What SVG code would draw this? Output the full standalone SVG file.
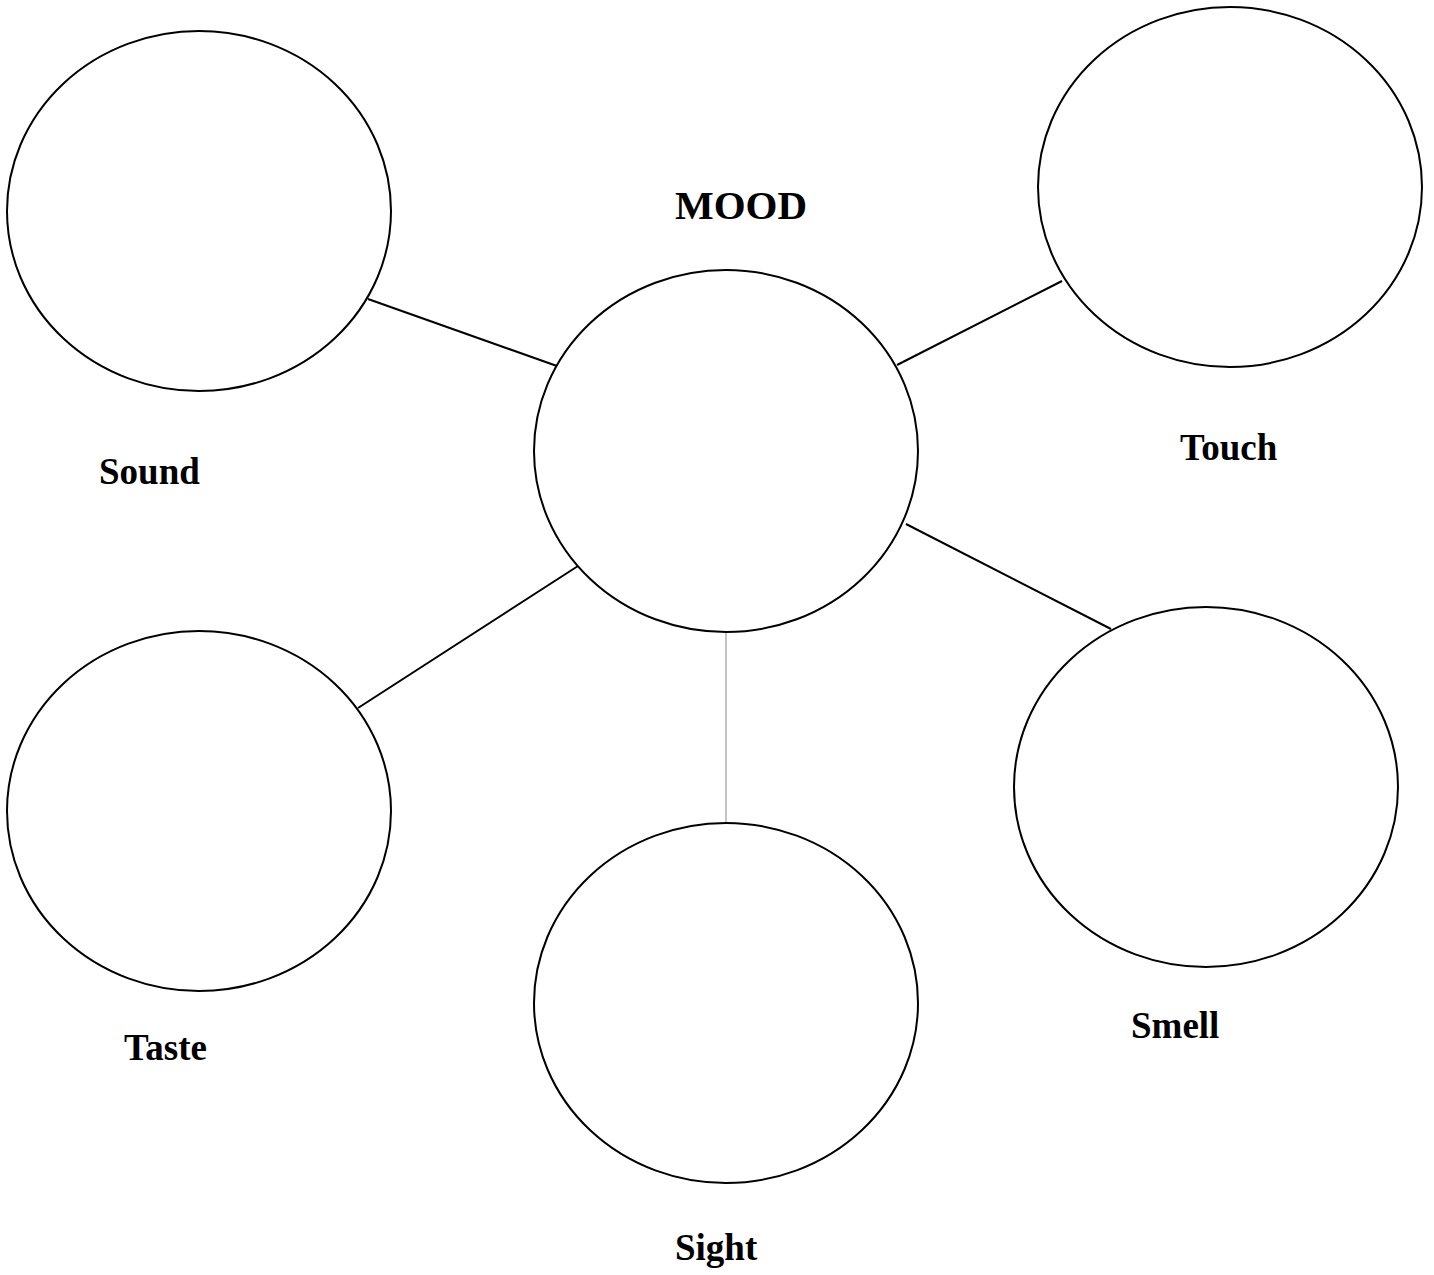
<svg xmlns="http://www.w3.org/2000/svg" width="1434" height="1275" viewBox="0 0 1434 1275">
<style>
.n{fill:#fff;stroke:#000;stroke-width:2}
.c{stroke:#000;stroke-width:2;fill:none}
.t{font-family:"Liberation Serif","Times New Roman",serif;font-weight:bold;font-size:37px;fill:#000}
</style>
<rect width="1434" height="1275" fill="#fff"/>
<g id="connectors">
<line class="c" x1="368" y1="299" x2="557" y2="366"/>
<line class="c" x1="897" y1="365" x2="1062" y2="281"/>
<line class="c" x1="906" y1="524" x2="1111" y2="629"/>
<line class="c" x1="358" y1="708" x2="578" y2="566"/>
<line x1="726" y1="632" x2="726" y2="823" stroke="#888" stroke-width="1"/>
</g>
<g id="mood"><ellipse class="n" cx="726" cy="451" rx="192" ry="181"/><text class="t" x="675" y="219" style="font-size:41px">MOOD</text></g>
<g id="sound"><ellipse class="n" cx="199" cy="211" rx="192" ry="180"/><text class="t" x="99" y="484">Sound</text></g>
<g id="touch"><ellipse class="n" cx="1230" cy="187" rx="192" ry="180"/><text class="t" x="1180" y="460">Touch</text></g>
<g id="taste"><ellipse class="n" cx="199" cy="811" rx="192" ry="180"/><text class="t" x="124" y="1060">Taste</text></g>
<g id="sight"><ellipse class="n" cx="726" cy="1003" rx="192" ry="180"/><text class="t" x="675" y="1260">Sight</text></g>
<g id="smell"><ellipse class="n" cx="1206" cy="787" rx="192" ry="180"/><text class="t" x="1131" y="1038">Smell</text></g>
</svg>
